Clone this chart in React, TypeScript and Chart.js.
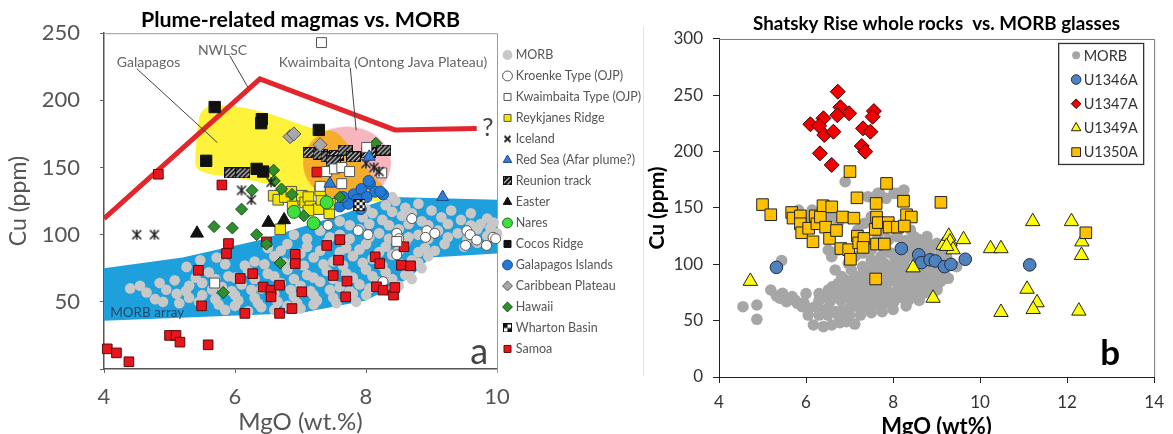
import React, { useEffect, useRef } from 'react';
import { Chart, registerables } from 'chart.js';
import { drawPoint } from 'chart.js/helpers';

Chart.register(...registerables);

type P = [number, number];

// ================= Panel a : Plume-related magmas vs. MORB =================
const aMorb: P[] = [
  [4.40, 60], [4.55, 62], [4.78, 52], [4.85, 64], [4.9, 50], [5.08, 66], [5.11, 56], [5.26, 76], [5.3, 53], [5.3, 62],
  [5.47, 81], [5.5, 55], [5.5, 64], [5.6, 72], [5.72, 83], [5.7, 52], [5.8, 61], [5.85, 44], [5.9, 69], [6.0, 47],
  [6.0, 55], [6.1, 63], [6.2, 43], [6.2, 73], [6.3, 53], [6.3, 80], [6.4, 46], [6.4, 60], [6.5, 71], [6.5, 90],
  [6.6, 44], [6.6, 56], [6.6, 84], [6.7, 64], [6.8, 47], [6.8, 74], [6.8, 93], [6.9, 54], [6.9, 81], [6.9, 100],
  [7.0, 45], [7.0, 62], [7.1, 70], [7.1, 91], [7.2, 48], [7.2, 55], [7.2, 83], [7.3, 65], [7.3, 103], [7.4, 73],
  [7.4, 94], [7.5, 53], [7.5, 80], [7.6, 61], [7.6, 100], [7.6, 110], [7.7, 71], [7.7, 90], [7.8, 56], [7.8, 84],
  [7.9, 63], [7.9, 104], [7.95, 113], [8.0, 55], [8.0, 74], [8.0, 93], [8.0, 119], [8.1, 82], [8.2, 65], [8.2, 101],
  [8.25, 111], [8.3, 72], [8.3, 91], [8.3, 122], [8.4, 85], [8.4, 128], [8.45, 125], [8.5, 62], [8.5, 104], [8.55, 114],
  [8.6, 70], [8.6, 94], [8.6, 120], [8.7, 67], [8.7, 81], [8.8, 100], [8.8, 123], [8.85, 75], [8.85, 110], [8.9, 90],
  [8.95, 84], [9.0, 118], [9.1, 103], [9.15, 113], [9.2, 93], [9.4, 101], [9.45, 111], [9.5, 91], [9.7, 104], [9.75, 108],
  [9.7, 94], [9.9, 105], [10.0, 101],
  [5.15, 49], [5.45, 50], [5.75, 48], [6.05, 51], [6.35, 49], [6.65, 50], [6.95, 49], [7.25, 51], [7.55, 49], [7.85, 50],
  [4.65, 57], [4.95, 59], [5.25, 58], [5.65, 59], [5.95, 58], [6.25, 59], [6.55, 58], [6.85, 59], [7.15, 58], [7.45, 59],
  [7.75, 58], [8.05, 60], [8.35, 58], [5.4, 68], [5.7, 67], [6.0, 68], [6.3, 67], [6.6, 69], [6.9, 67], [7.2, 68],
  [7.5, 67], [7.8, 68], [8.1, 69], [8.4, 67], [8.65, 72], [5.85, 78], [6.15, 77], [6.45, 78], [6.75, 79], [7.05, 77],
  [7.35, 78], [7.65, 77], [7.95, 79], [8.25, 77], [8.55, 78], [8.8, 79], [6.7, 88], [7.0, 86], [7.3, 88], [7.6, 87],
  [7.9, 89], [8.2, 87], [8.5, 88], [8.8, 87], [9.05, 88], [7.1, 97], [7.45, 98], [7.75, 97], [8.05, 98], [8.35, 97],
  [8.65, 98], [8.95, 97], [9.25, 98], [9.55, 97], [9.85, 99], [7.75, 107], [8.05, 108], [8.35, 107], [8.65, 108],
  [8.95, 107], [9.25, 108], [9.6, 107], [9.95, 109], [8.1, 116], [8.4, 117], [8.7, 116], [9.3, 118], [9.6, 116], [9.85, 112],
];
const aKroenke: P[] = [
  [7.42, 107], [7.88, 103], [8.03, 100], [8.70, 112], [8.47, 101], [8.50, 97], [8.47, 85], [8.93, 103], [8.91, 98],
  [9.05, 101], [9.54, 103], [9.59, 100], [9.52, 92], [9.69, 96], [9.84, 92], [9.94, 98], [9.98, 97], [8.26, 65],
];
const aKwaimbaita: P[] = [
  [7.32, 243], [7.40, 147], [7.52, 149], [7.63, 150], [7.30, 136], [7.63, 138], [8.01, 165], [8.24, 146], [5.69, 64],
  [8.47, 95], [7.75, 147],
];
const aReykjanes: P[] = [
  [6.59, 129], [6.66, 126], [6.76, 128], [6.86, 132], [6.92, 126], [7.02, 129], [7.07, 124], [7.12, 128], [7.15, 121],
  [7.27, 119], [7.32, 126], [7.44, 116], [7.45, 123], [6.69, 104], [7.12, 118], [7.30, 133], [6.88, 121],
];
const aIceland: P[] = [[4.50, 100], [4.77, 100], [6.10, 133], [6.25, 126], [6.55, 139], [8.0, 153], [8.12, 150], [8.2, 147]];
const aRedSea: P[] = [[9.17, 128], [7.45, 138], [8.05, 158]];
const aReunion: P[] = [
  [5.95, 146], [6.12, 146], [7.15, 161], [7.30, 160], [7.42, 158], [7.55, 159], [7.68, 163], [7.81, 158], [8.04, 161],
  [8.27, 163], [7.50, 155],
];
const aEaster: P[] = [[5.42, 101], [6.51, 109], [6.75, 111]];
const aNares: P[] = [[6.90, 117], [7.40, 124], [7.20, 108.5]];
const aCocos: P[] = [[5.69, 195], [6.41, 186], [6.40, 183], [7.28, 178], [5.56, 155], [6.33, 149], [6.43, 147]];
const aGalapagosIslands: P[] = [
  [7.60, 121], [7.71, 126], [7.81, 130], [7.93, 134], [8.06, 138], [8.14, 132], [8.26, 130], [8.01, 128], [7.86, 126],
  [7.73, 123], [7.65, 128], [8.04, 140], [8.22, 132], [7.92, 119],
];
const aCaribbean: P[] = [[6.84, 173], [6.90, 175], [7.30, 167]];
const aHawaii: P[] = [
  [6.59, 148], [6.60, 140], [6.26, 133], [6.10, 119], [5.68, 106], [5.96, 105], [6.33, 100], [6.48, 93], [6.69, 79],
  [5.82, 57], [6.71, 134], [6.87, 130], [7.05, 114], [7.60, 128], [8.15, 168],
];
const aWharton: P[] = [[7.90, 122]];
const aSamoa: P[] = [
  [4.83, 145], [5.80, 137], [4.05, 15], [4.19, 12], [4.38, 5.4], [5.0, 25], [5.10, 25], [5.16, 20], [5.59, 18],
  [5.49, 47], [5.44, 73.5], [5.90, 93.4], [5.87, 86], [6.08, 67.4], [6.15, 41.4], [6.27, 71], [6.43, 61], [6.55, 58.7],
  [6.55, 53.7], [6.68, 62.4], [6.68, 41.4], [6.87, 45], [6.92, 85.4], [6.92, 78.5], [7.02, 57.5], [7.25, 146.6],
  [7.40, 92], [7.50, 69.6], [7.58, 81], [7.60, 96.3], [7.71, 65.4], [7.69, 53.7], [8.14, 83.5], [8.21, 78.5],
  [8.16, 61.2], [8.26, 58.7], [8.42, 55], [8.44, 60.7], [8.58, 91], [8.54, 77.3], [8.68, 76.8], [6.48, 94.6],
];
// fields, trend line and leader lines (data coordinates)
const aNwlscLine: P[] = [[4, 112], [6.38, 216], [8.44, 178], [9.69, 179]];
const aGalapagosField: P[] = [
  [5.62, 197], [6.08, 195], [6.59, 189], [7.2, 179], [7.55, 176], [8.0, 150], [8.37, 129], [8.21, 125], [7.81, 125],
  [6.48, 138], [5.97, 143], [5.62, 145], [5.41, 150], [5.41, 168], [5.47, 190], [5.62, 197],
];
const aMorbArray: P[] = [
  [4, 75], [5.2, 83], [6.38, 96], [7.5, 113], [8.41, 128], [10, 126], [10, 86], [8.98, 83], [8.67, 68], [8.0, 51],
  [7.0, 41.6], [4, 36],
];
const aKwaimbaitaField: P[] = [[7.71, 153]];
const aLeaderGalapagos: P[] = [[4.50, 223.6], [5.73, 168.6]];
const aLeaderNwlsc: P[] = [[5.92, 233.3], [6.20, 209.5]];
const aLeaderKwaimbaita: P[] = [[7.76, 224.4], [7.85, 177.6]];
const aNotes = [
  { text: 'Galapagos', x: 4.68, y: 228, font: '14px Lato', color: '#666' },
  { text: 'NWLSC', x: 5.81, y: 237, font: '14px Lato', color: '#666' },
  { text: 'Kwaimbaita (Ontong Java Plateau)', x: 8.26, y: 228, font: '14px Lato', color: '#666' },
  { text: '?', x: 9.86, y: 179.4, font: '25px Lato', color: '#444' },
  { text: 'MORB array', x: 4.66, y: 41.6, font: '13.5px Lato', color: '#1d4a72' },
  { text: 'a', x: 9.73, y: 3.7, font: '36px Lato', color: '#444', baseline: 'alphabetic' },
];

// ================= Panel b : Shatsky Rise whole rocks vs. MORB glasses =================
const bMorb: P[] = [
  [4.55, 62.4], [4.87, 63.9], [4.87, 51.2], [5.19, 77.2], [5.32, 71.9], [5.46, 74.3], [5.55, 66.9], [5.44, 103.3],
  [5.68, 71.3], [5.80, 65.4], [5.91, 62.4], [6.06, 60.9], [6.21, 62.4], [6.36, 59.5], [6.51, 60.9], [6.67, 58.0],
  [6.82, 59.5], [7.00, 60.9], [7.19, 62.4], [7.38, 62.4], [7.57, 63.9], [7.80, 65.4], [8.02, 66.9], [8.25, 69.8],
  [8.48, 71.3], [8.70, 74.3], [8.85, 77.2], [9.01, 80.2],
  [6.17, 46.2], [6.40, 44.7], [6.59, 46.2], [6.78, 48.2], [6.93, 49.1], [7.12, 47.0],
  [6.44, 71.3], [6.67, 71.3], [6.89, 71.3], [7.12, 71.3], [7.34, 71.3], [7.57, 71.3], [7.80, 71.3], [8.02, 71.3],
  [6.51, 77.2], [6.74, 77.2], [6.97, 77.2], [7.19, 77.2], [7.42, 77.2], [7.65, 77.2], [7.87, 77.2], [8.10, 77.2],
  [8.33, 77.2], [8.55, 77.2], [8.78, 77.2], [9.01, 77.2],
  [6.74, 83.1], [6.97, 83.1], [7.19, 83.1], [7.42, 83.1], [7.65, 83.1], [7.87, 83.1], [8.10, 83.1], [8.33, 83.1],
  [8.55, 83.1], [8.78, 83.1], [9.01, 83.1],
  [6.82, 89.1], [7.12, 89.1], [7.34, 89.1], [7.57, 89.1], [7.80, 89.1], [8.02, 89.1], [8.25, 89.1], [8.48, 89.1],
  [8.70, 89.1], [8.93, 89.1], [9.16, 89.1],
  [6.67, 95.0], [7.04, 95.0], [7.50, 95.0], [7.80, 95.0], [8.10, 95.0], [8.40, 95.0], [8.70, 95.0], [9.01, 95.0], [9.19, 95.0],
  [6.97, 100.9], [7.65, 100.9], [7.80, 100.9], [8.25, 100.9], [8.85, 100.9], [9.12, 100.9],
  [6.59, 106.8], [7.12, 106.8], [7.72, 106.8], [8.40, 106.8], [8.85, 106.8], [9.23, 106.8],
  [6.51, 112.7], [6.74, 112.7], [7.50, 112.7], [7.80, 112.7], [8.33, 112.7], [8.55, 112.7], [8.85, 112.7],
  [7.42, 118.6], [7.65, 118.6], [7.80, 118.6], [8.40, 118.6], [8.70, 118.6], [9.01, 118.6],
  [7.65, 124.6], [8.10, 124.6], [8.48, 124.6], [8.78, 124.6],
  [7.19, 130.5], [7.80, 130.5], [8.10, 130.5], [8.40, 130.5],
  [6.21, 136.4], [6.74, 136.4], [7.34, 136.4], [7.80, 136.4],
  [5.99, 142.3], [6.59, 142.3], [7.50, 142.3],
  [5.83, 148.2], [6.14, 148.2],
  [7.42, 160], [7.65, 163], [7.84, 158.6], [8.02, 163], [8.25, 160], [6.90, 173.3], [7.69, 163], [8.25, 166], [8.10, 163],
  [9.19, 87.6], [9.46, 97.9], [9.27, 87.6],
  [6.3, 68], [6.55, 67], [6.8, 68], [7.05, 67], [7.3, 68], [7.55, 67], [7.8, 68], [8.05, 69], [8.35, 68], [8.6, 68],
  [6.0, 74], [6.3, 74], [6.6, 75], [6.85, 74], [7.1, 75], [7.35, 74], [7.6, 75], [7.85, 74], [8.15, 75], [8.4, 74],
  [8.65, 75], [8.9, 74], [6.6, 80], [6.85, 80], [7.1, 81], [7.35, 80], [7.6, 80], [7.85, 81], [8.2, 80], [8.45, 80],
  [8.7, 81], [8.9, 80], [6.9, 86], [7.25, 86], [7.5, 87], [7.75, 86], [8.15, 86], [8.4, 87], [8.6, 86], [8.85, 86],
  [9.1, 85], [7.3, 92], [7.65, 92], [7.95, 91], [8.25, 92], [8.55, 92], [8.85, 92], [9.1, 92], [7.3, 98], [7.95, 98],
  [8.25, 98], [8.55, 98], [8.95, 98], [9.25, 100], [7.0, 103], [7.5, 104], [8.05, 104], [8.6, 104], [9.05, 104],
  [7.3, 110], [7.95, 110], [8.2, 109], [8.7, 110], [9.1, 110], [7.55, 116], [8.55, 116], [8.85, 117], [7.9, 122],
  [8.3, 121], [8.6, 122], [5.75, 68], [5.95, 66], [5.4, 70], [6.05, 55], [6.3, 55], [6.5, 55], [6.75, 54], [7.0, 55],
  [7.25, 55], [7.5, 57], [7.75, 58], [8.0, 60], [8.3, 63],
];
const bU1346A: P[] = [
  [5.32, 97.3], [8.19, 114], [8.59, 108.5], [8.65, 101.5], [8.85, 104], [8.97, 103], [9.18, 98], [9.33, 100],
  [9.66, 104.5], [11.14, 99.5],
];
const bU1347A: P[] = [
  [6.73, 253.2], [6.79, 239.4], [6.99, 234], [6.72, 232.3], [6.40, 229.6], [6.10, 224.3], [6.30, 222.8], [6.42, 214.8],
  [6.63, 217.7], [7.56, 236], [7.53, 231], [7.31, 220.7], [7.48, 217.7], [7.28, 205], [7.36, 200], [6.32, 198.5],
  [6.59, 188.2],
];
const bU1349A: P[] = [
  [4.72, 85], [8.46, 97], [8.92, 70], [9.15, 117], [9.28, 125], [9.31, 120], [9.38, 113], [9.62, 122], [10.24, 114],
  [10.48, 114], [11.21, 138], [12.10, 138], [12.34, 120], [12.33, 108], [11.08, 78], [11.31, 66], [11.22, 60],
  [10.48, 57.4], [12.27, 58.6], [9.23, 116],
];
const bU1350A: P[] = [
  [7.01, 182.3], [7.85, 171.8], [7.17, 159], [7.61, 154], [8.24, 156], [9.10, 155], [5.00, 153], [5.19, 144],
  [5.67, 146], [5.70, 141], [5.87, 143], [5.87, 136], [5.90, 128], [6.06, 132], [6.16, 120], [6.21, 143], [6.25, 136],
  [6.33, 142], [6.39, 152], [6.59, 151], [6.45, 133], [6.54, 123], [6.70, 130], [6.84, 142], [7.10, 141], [6.80, 114],
  [6.98, 113], [7.02, 104.5], [7.18, 125], [7.21, 119], [7.33, 123], [7.31, 115], [7.59, 131], [7.62, 142], [7.66, 137],
  [7.62, 118], [7.80, 118], [7.89, 137], [7.91, 133], [8.10, 133], [8.31, 144], [8.42, 142], [8.26, 134], [7.60, 87],
  [12.43, 128],
];
const bNotes = [{ text: 'b', x: 12.99, y: 10.6, font: 'bold 35px Lato', color: '#000', baseline: 'alphabetic' }];

// ================= helpers =================
function makeCanvas(w: number, h: number, draw: (c: CanvasRenderingContext2D) => void) {
  const c = document.createElement('canvas');
  c.width = w;
  c.height = h;
  draw(c.getContext('2d') as CanvasRenderingContext2D);
  return c;
}
function asteriskStyle(s: number, lw: number, vertical: boolean) {
  return makeCanvas(s, s, (ctx) => {
    ctx.strokeStyle = '#222';
    ctx.lineWidth = lw;
    const m = 1.5, e = s - 1.5, c = s / 2;
    ctx.beginPath();
    ctx.moveTo(m, m); ctx.lineTo(e, e);
    ctx.moveTo(e, m); ctx.lineTo(m, e);
    if (vertical) { ctx.moveTo(c, m - 0.5); ctx.lineTo(c, e + 0.5); }
    ctx.stroke();
  });
}
function stripeStyle(w: number, h: number, step: number) {
  return makeCanvas(w, h, (ctx) => {
    ctx.fillStyle = '#fff';
    ctx.fillRect(0, 0, w, h);
    ctx.save();
    ctx.beginPath(); ctx.rect(0, 0, w, h); ctx.clip();
    ctx.strokeStyle = '#111';
    ctx.lineWidth = step * 0.5;
    for (let k = -h; k < w + h; k += step) {
      ctx.beginPath(); ctx.moveTo(k, h); ctx.lineTo(k + h, 0); ctx.stroke();
    }
    ctx.restore();
    ctx.strokeStyle = '#111'; ctx.lineWidth = 1;
    ctx.strokeRect(0.5, 0.5, w - 1, h - 1);
  });
}
function checkerStyle(s: number, n: number) {
  return makeCanvas(s, s, (ctx) => {
    const c = s / n;
    ctx.fillStyle = '#fff'; ctx.fillRect(0, 0, s, s);
    ctx.fillStyle = '#111';
    for (let i = 0; i < n; i++) for (let j = 0; j < n; j++) if ((i + j) % 2 === 0) ctx.fillRect(i * c, j * c, c, c);
    ctx.strokeStyle = '#111'; ctx.lineWidth = 1; ctx.strokeRect(0.5, 0.5, s - 1, s - 1);
  });
}
function ellipseStyle(w: number, h: number, color: string) {
  return makeCanvas(w, h, (ctx) => {
    ctx.fillStyle = color;
    ctx.beginPath(); ctx.ellipse(w / 2, h / 2, w / 2 - 1, h / 2 - 1, 0, 0, Math.PI * 2); ctx.fill();
  });
}
const toXY = (d: P[]) => d.map(([x, y]) => ({ x, y }));

function scatterSet(label: string, data: P[], o: any) {
  return {
    type: 'scatter', label, data: toXY(data),
    pointStyle: o.style, pointRadius: o.r, pointHoverRadius: o.r,
    pointBackgroundColor: o.bg, pointBorderColor: o.border ?? o.bg,
    backgroundColor: o.bg, borderColor: o.border ?? o.bg,
    pointBorderWidth: o.bw ?? 1, borderWidth: o.bw ?? 1,
    order: o.order, clip: o.clip ?? false,
    legendStyle: o.legendStyle, legendRadius: o.legendRadius, hideLegend: o.hideLegend, blend: o.blend,
  };
}
function lineSet(data: P[], o: any) {
  return {
    type: 'line', label: '', data: toXY(data), showLine: true, pointRadius: 0, pointHoverRadius: 0,
    borderColor: o.color ?? 'rgba(0,0,0,0)', borderWidth: o.width ?? 0, backgroundColor: o.fill ?? 'rgba(0,0,0,0)',
    fill: o.fill ? 'shape' : false, tension: o.tension ?? 0, order: o.order, hideLegend: true,
    borderJoinStyle: 'miter',
  };
}

const blendPlugin = {
  id: 'blend',
  beforeDatasetDraw(chart: any, args: any) {
    const ds = chart.data.datasets[args.index];
    if (ds.blend) { chart.ctx.save(); chart.ctx.globalCompositeOperation = ds.blend; }
  },
  afterDatasetDraw(chart: any, args: any) {
    const ds = chart.data.datasets[args.index];
    if (ds.blend) chart.ctx.restore();
  },
};
function notesPlugin(notes: any[]) {
  return {
    id: 'notes',
    afterDatasetsDraw(chart: any) {
      const { ctx, scales } = chart;
      ctx.save();
      for (const n of notes) {
        ctx.font = n.font;
        ctx.fillStyle = n.color;
        ctx.textAlign = 'center';
        ctx.textBaseline = n.baseline ?? 'middle';
        ctx.fillText(n.text, scales.x.getPixelForValue(n.x), scales.y.getPixelForValue(n.y));
      }
      ctx.restore();
    },
  };
}
function framePlugin(color: string, separator: boolean) {
  return {
    id: 'frame',
    beforeDatasetsDraw(chart: any) {
      const { ctx, chartArea: { left, right, top, bottom } } = chart;
      ctx.save();
      ctx.strokeStyle = color;
      ctx.lineWidth = 1;
      ctx.beginPath();
      ctx.moveTo(left, top + 0.5);
      ctx.lineTo(right + 0.5, top + 0.5);
      ctx.lineTo(right + 0.5, bottom + (separator ? 4 : 0));
      ctx.stroke();
      if (separator) {
        ctx.strokeStyle = '#e4e4e4';
        ctx.beginPath();
        ctx.moveTo(chart.width - 1.5, 26);
        ctx.lineTo(chart.width - 1.5, 376);
        ctx.stroke();
      }
      ctx.restore();
    },
  };
}
const boxLegendPlugin = {
  id: 'boxLegend',
  afterDatasetsDraw(chart: any) {
    const { ctx, chartArea } = chart;
    const left = chartArea.right - 96, top = chartArea.top + 4, w = 85, h = 121;
    ctx.save();
    ctx.fillStyle = '#fff';
    ctx.fillRect(left, top, w, h);
    ctx.strokeStyle = '#333';
    ctx.lineWidth = 1.3;
    ctx.strokeRect(left + 0.5, top + 0.5, w, h);
    chart.data.datasets.forEach((ds: any, i: number) => {
      const cy = top + 12.4 + i * 24.2;
      ctx.fillStyle = ds.pointBackgroundColor;
      ctx.strokeStyle = ds.pointBorderColor;
      ctx.lineWidth = ds.pointBorderWidth;
      drawPoint(ctx, { pointStyle: ds.pointStyle, radius: ds.legendRadius, borderWidth: ds.pointBorderWidth, rotation: 0 } as any, left + 18, cy);
      ctx.fillStyle = '#333';
      ctx.font = '14.5px Lato';
      ctx.textAlign = 'left';
      ctx.textBaseline = 'middle';
      ctx.fillText(ds.label, left + 25.5, cy + 0.5);
    });
    ctx.restore();
  },
};

export default function App() {
  const refA = useRef<HTMLCanvasElement>(null);
  const refB = useRef<HTMLCanvasElement>(null);

  useEffect(() => {
    const icelandPlot = asteriskStyle(12, 1.5, true);
    const icelandLegend = asteriskStyle(9, 2, false);
    const reunionPlot = stripeStyle(15, 11, 4.5);
    const reunionLegend = stripeStyle(9, 9, 5);
    const whartonPlot = checkerStyle(12, 4);
    const whartonLegend = checkerStyle(9, 2);
    const pinkField = ellipseStyle(90, 76, '#f7b6be');

    const ln = { family: 'Lato' };
    const chartA = new Chart(refA.current as HTMLCanvasElement, {
      type: 'scatter',
      data: {
        datasets: [
          scatterSet('MORB', aMorb, { style: 'circle', r: 5.3, bg: '#c8c8c8', bw: 0, order: 20 }),
          scatterSet('Kroenke Type (OJP)', aKroenke, { style: 'circle', r: 5, bg: '#ffffff', border: '#555', order: 18 }),
          scatterSet('Kwaimbaita Type (OJP)', aKwaimbaita, { style: 'rect', r: 7, bg: '#ffffff', border: '#555', order: 6 }),
          scatterSet('Reykjanes Ridge', aReykjanes, { style: 'rect', r: 7.5, bg: '#f3e600', border: '#555', order: 10 }),
          scatterSet('Iceland', aIceland, { style: icelandPlot, r: 5, bg: '#222', border: '#222', order: 5, legendStyle: icelandLegend }),
          scatterSet('Red Sea (Afar plume?)', aRedSea, { style: 'triangle', r: 7, bg: '#2f7fd8', border: '#1b4a80', order: 4 }),
          scatterSet('Reunion track', aReunion, { style: reunionPlot, r: 5, bg: '#111', border: '#111', order: 7, legendStyle: reunionLegend }),
          scatterSet('Easter', aEaster, { style: 'triangle', r: 7.5, bg: '#111', border: '#111', order: 6 }),
          scatterSet('Nares', aNares, { style: 'circle', r: 6.5, bg: '#3ee03e', border: '#1f6b1f', order: 8 }),
          scatterSet('Cocos Ridge', aCocos, { style: 'rect', r: 8, bg: '#111', border: '#111', order: 6 }),
          scatterSet('Galapagos Islands', aGalapagosIslands, { style: 'circle', r: 5.5, bg: '#2479d6', border: '#16508f', order: 9 }),
          scatterSet('Caribbean Plateau', aCaribbean, { style: 'rectRot', r: 7, bg: '#a8a8a8', border: '#555', order: 6 }),
          scatterSet('Hawaii', aHawaii, { style: 'rectRot', r: 6, bg: '#2f8f2f', border: '#174d17', order: 8 }),
          scatterSet('Wharton Basin', aWharton, { style: whartonPlot, r: 5, bg: '#111', border: '#111', order: 3, legendStyle: whartonLegend }),
          scatterSet('Samoa', aSamoa, { style: 'rect', r: 6.8, bg: '#e8151d', border: '#5b0b0b', order: 15 }),
          // decorations
          lineSet(aLeaderGalapagos, { color: '#444', width: 1, order: 22 }),
          lineSet(aLeaderNwlsc, { color: '#444', width: 1, order: 22 }),
          lineSet(aLeaderKwaimbaita, { color: '#444', width: 1, order: 22 }),
          lineSet(aNwlscLine, { color: '#e3262b', width: 5, order: 23 }),
          lineSet(aMorbArray, { fill: '#1ea0dc', order: 24 }),
          scatterSet('', aKwaimbaitaField, { style: pinkField, r: 5, bg: '#f7b6be', bw: 0, order: 25, hideLegend: true, blend: 'multiply', clip: true }),
          lineSet(aGalapagosField, { fill: '#fff23a', order: 26, tension: 0.25 }),
        ] as any,
      },
      options: {
        responsive: false,
        animation: false,
        events: [],
        layout: { padding: 0 },
        plugins: {
          title: {
            display: true, text: 'Plume-related magmas vs. MORB', fullSize: false, color: '#000',
            font: { family: 'Lato', size: 21.4, weight: 'bold' }, padding: { top: 7, bottom: 0.3 },
          },
          legend: {
            display: true, position: 'right', align: 'start', maxWidth: 148,
            title: { display: true, text: '', font: { size: 1 }, padding: { top: 39, bottom: 0 } },
            labels: {
              usePointStyle: true, boxWidth: 4, boxHeight: 7, padding: 8.5, color: '#555',
              font: { family: 'Lato', size: 12.5 },
              sort: (a: any, b: any) => a.datasetIndex - b.datasetIndex,
              filter: (item: any, data: any) => !data.datasets[item.datasetIndex].hideLegend,
              generateLabels: (chart: any) =>
                (Chart.defaults.plugins.legend.labels.generateLabels as any)(chart).map((it: any) => {
                  const ds = chart.data.datasets[it.datasetIndex];
                  if (ds.legendStyle) it.pointStyle = ds.legendStyle;
                  return it;
                }),
            },
          },
          tooltip: { enabled: false },
        },
        scales: {
          x: {
            type: 'linear', min: 4, max: 10,
            afterFit: (s: any) => { s.height = 65; },
            ticks: { stepSize: 2, color: '#555', font: { ...ln, size: 22 }, padding: 11 },
            grid: { display: true, drawOnChartArea: false, drawTicks: true, tickLength: 4, color: '#666' },
            border: { color: '#555', width: 1.5 },
            title: { display: true, text: 'MgO (wt.%)', color: '#555', font: { ...ln, size: 24 }, padding: { top: 0, bottom: -3 } },
          },
          y: {
            type: 'linear', min: 0, max: 250,
            afterFit: (s: any) => { s.width = 104; },
            ticks: { stepSize: 50, color: '#555', font: { ...ln, size: 22 }, padding: 20, callback: (v: any) => (v === 0 ? '' : v) },
            grid: { display: true, drawOnChartArea: false, drawTicks: true, tickLength: 4, color: '#666' },
            border: { color: '#555', width: 1.5 },
            title: { display: true, text: 'Cu (ppm)', color: '#555', font: { ...ln, size: 23 }, padding: { top: 5, bottom: 0 } },
          },
        },
      } as any,
      plugins: [blendPlugin, notesPlugin(aNotes), framePlugin('#9a9a9a', true)],
    });

    const chartB = new Chart(refB.current as HTMLCanvasElement, {
      type: 'scatter',
      data: {
        datasets: [
          scatterSet('MORB', bMorb, { style: 'circle', r: 5.8, bg: '#a6a6a6', bw: 0, order: 10, legendRadius: 4 }),
          scatterSet('U1346A', bU1346A, { style: 'circle', r: 6.3, bg: '#4f81bd', border: '#1f2f45', order: 4, legendRadius: 4.8 }),
          scatterSet('U1347A', bU1347A, { style: 'rectRot', r: 7.5, bg: '#f00000', border: '#3a0000', order: 1, legendRadius: 4.8 }),
          scatterSet('U1349A', bU1349A, { style: 'triangle', r: 8.3, bg: '#ffff00', border: '#222', order: 3, legendRadius: 5.5 }),
          scatterSet('U1350A', bU1350A, { style: 'rect', r: 8.2, bg: '#ffc000', border: '#222', order: 2, legendRadius: 6.2 }),
        ] as any,
      },
      options: {
        responsive: false,
        animation: false,
        events: [],
        layout: { padding: { left: 0, right: 12, top: 0, bottom: 0 } },
        plugins: {
          title: {
            display: true, text: 'Shatsky Rise whole rocks  vs. MORB glasses', fullSize: false, color: '#000',
            font: { family: 'Lato', size: 18.8, weight: 'bold' }, padding: { top: 13, bottom: 3.4 },
          },
          legend: { display: false },
          tooltip: { enabled: false },
        },
        scales: {
          x: {
            type: 'linear', min: 4, max: 14,
            afterFit: (s: any) => { s.height = 57; },
            ticks: { stepSize: 2, color: '#333', font: { ...ln, size: 17 }, padding: 9 },
            grid: { display: true, drawOnChartArea: false, drawTicks: true, tickLength: 6, color: '#222' },
            border: { color: '#222', width: 1 },
            title: { display: true, text: 'MgO (wt%)', color: '#000', font: { ...ln, size: 22, weight: 'bold' }, padding: { top: 0, bottom: -6 } },
          },
          y: {
            type: 'linear', min: 0, max: 300,
            afterFit: (s: any) => { s.width = 74; },
            ticks: { stepSize: 50, color: '#333', font: { ...ln, size: 17 }, padding: 10 },
            grid: { display: true, drawOnChartArea: false, drawTicks: true, tickLength: 6, color: '#222' },
            border: { color: '#222', width: 1 },
            title: { display: true, text: 'Cu (ppm)', color: '#000', font: { ...ln, size: 21, weight: 'bold' }, padding: { top: 0, bottom: 0 } },
          },
        },
      } as any,
      plugins: [notesPlugin(bNotes), framePlugin('#777', false), boxLegendPlugin],
    });

    return () => {
      chartA.destroy();
      chartB.destroy();
    };
  }, []);

  return (
    <div style={{ position: 'fixed', left: 0, top: 0, width: 1173, height: 434, background: '#fff', overflow: 'hidden' }}>
      <canvas ref={refA} width={645} height={434} style={{ position: 'absolute', left: 0, top: 0, width: 645, height: 434 }} />
      <canvas ref={refB} width={528} height={434} style={{ position: 'absolute', left: 645, top: 0, width: 528, height: 434 }} />
    </div>
  );
}
